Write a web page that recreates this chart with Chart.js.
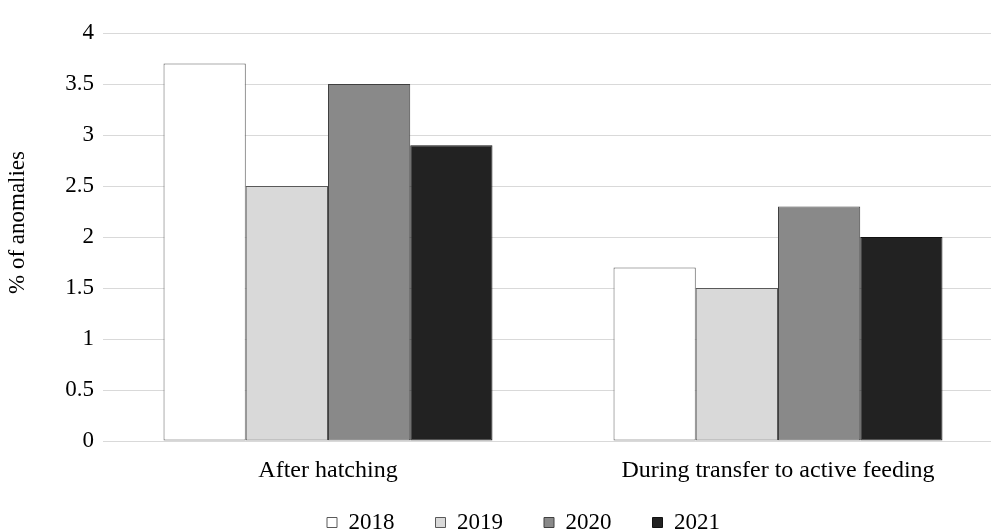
<!DOCTYPE html>
<html>
<head>
<meta charset="utf-8">
<script src="https://cdn.jsdelivr.net/npm/chart.js@4/dist/chart.umd.min.js"></script>
<style>
  html, body { margin: 0; padding: 0; background: #fff; }
  #wrap { width: 991px; height: 532px; overflow: hidden; position: relative; }
  #c { position: absolute; left: 0; top: 0; }
</style>
</head>
<body>
<div id="wrap"><canvas id="c" width="1047" height="580"></canvas></div>
<script>
const categories = ["After hatching", "During transfer to active feeding"];
const years = ["2018", "2019", "2020", "2021"];
const values2018 = [3.7, 1.7];
const values2019 = [2.5, 1.5];
const values2020 = [3.5, 2.3];
const values2021 = [2.9, 2.0];
const yTicks = [0, 0.5, 1, 1.5, 2, 2.5, 3, 3.5, 4];
const yTitle = "% of anomalies";

const fills = ["#ffffff", "#d9d9d9", "#898989", "#222222"];
const borders = ["#595959", "#595959", "#404040", "#111111"];
const seriesValues = [values2018, values2019, values2020, values2021];

const FONT = "'Liberation Serif', 'Times New Roman', serif";
const FS = 23;
const CANVAS_H = 580;
const PLOT_BOTTOM = 441;
const LEGEND_PAD = 41;

// Place legend (centred on the original, wider figure) and draw the y title
const layoutTweaks = {
  id: 'layoutTweaks',
  afterLayout(chart) {
    const lg = chart.legend;
    if (lg) {
      const h = lg.height;
      lg.left += 22; lg.right += 22;
      lg.top = 470; lg.bottom = lg.top + h;
    }
  },
  afterDraw(chart) {
    const ctx = chart.ctx;
    ctx.save();
    ctx.translate(18, 222.5);
    ctx.rotate(-Math.PI / 2);
    ctx.font = FS + "px " + FONT;
    ctx.fillStyle = '#000';
    ctx.textAlign = 'center';
    ctx.textBaseline = 'middle';
    ctx.fillText(yTitle, 0, 0);
    ctx.restore();
  }
};

new Chart(document.getElementById('c'), {
  type: 'bar',
  data: {
    labels: categories,
    datasets: years.map((y, i) => ({
      label: y,
      data: seriesValues[i],
      backgroundColor: fills[i],
      borderColor: borders[i],
      borderWidth: 1,
      borderSkipped: false,
      categoryPercentage: 0.731,
      barPercentage: 1.0
    }))
  },
  options: {
    responsive: false,
    animation: false,
    events: [],
    layout: { padding: { top: 33, right: 44, bottom: 0, left: 0 } },
    plugins: {
      legend: {
        position: 'bottom',
        labels: {
          boxWidth: 10,
          boxHeight: 10,
          padding: LEGEND_PAD,
          color: '#000',
          font: { family: FONT, size: FS }
        }
      },
      tooltip: { enabled: false }
    },
    scales: {
      x: {
        grid: { display: false, drawTicks: false },
        border: { display: false },
        ticks: { color: '#000', font: { family: FONT, size: 24 }, padding: 15, maxRotation: 0 },
        afterFit(scale) {
          const legendH = FS + LEGEND_PAD + 10;
          scale.height = CANVAS_H - legendH - PLOT_BOTTOM;
        }
      },
      y: {
        min: 0,
        max: 4,
        afterBuildTicks(scale) { scale.ticks = yTicks.map(v => ({ value: v })); },
        grid: { color: '#d9d9d9', lineWidth: 1, drawTicks: false },
        border: { display: false },
        ticks: {
          color: '#000',
          font: { family: FONT, size: FS },
          padding: 9,
          callback: (v) => String(v)
        },
        title: { display: false },
        afterFit(scale) { scale.width = 103; }
      }
    }
  },
  plugins: [layoutTweaks]
});
</script>
</body>
</html>
